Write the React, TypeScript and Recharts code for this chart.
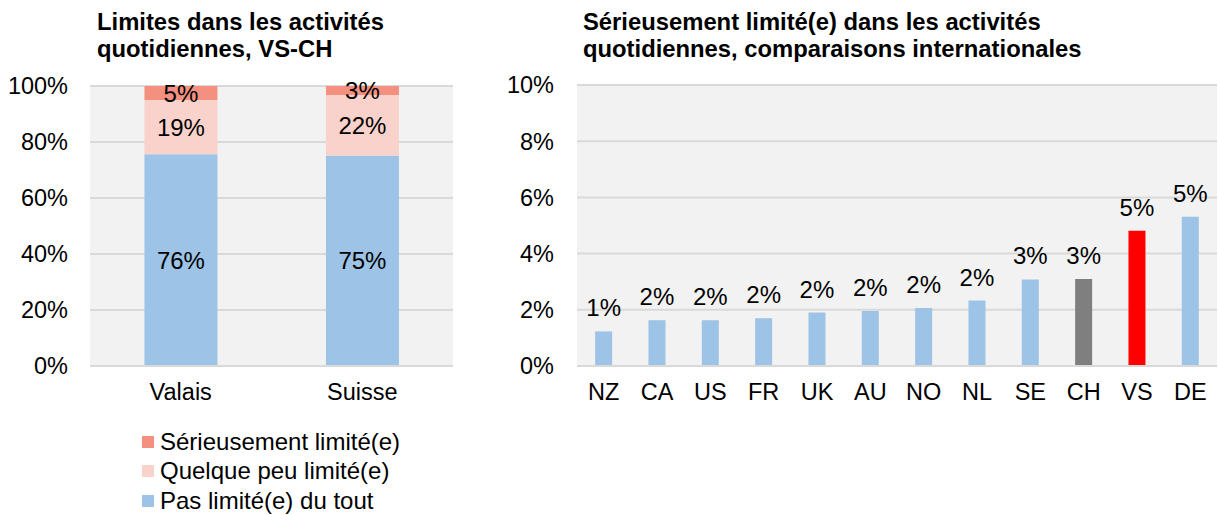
import React from 'react';
import { BarChart, Bar, XAxis, YAxis, CartesianGrid, LabelList, Cell } from 'recharts';

const regions = ['Valais', 'Suisse'];
const serieusement = [5.0, 3.2];
const quelquePeu = [19.4, 21.6];
const pasLimite = [75.6, 75.2];
const leftTicks = [0, 20, 40, 60, 80, 100];

const countries = ['NZ', 'CA', 'US', 'FR', 'UK', 'AU', 'NO', 'NL', 'SE', 'CH', 'VS', 'DE'];
const serieusementIntl = [1.23, 1.63, 1.63, 1.7, 1.9, 1.96, 2.06, 2.33, 3.08, 3.1, 4.81, 5.31];
const rightTicks = [0, 2, 4, 6, 8, 10];

const seriesNames = ['Sérieusement limité(e)', 'Quelque peu limité(e)', 'Pas limité(e) du tout'];

const COL_SER = '#f3907f';
const COL_QUE = '#f9d3cb';
const COL_PAS = '#9dc3e6';
const highlight: Record<string, string> = { CH: '#7f7f7f', VS: '#ff0000' };

const leftData = regions.map((r, i) => ({
  name: r,
  pas: pasLimite[i],
  que: quelquePeu[i],
  ser: serieusement[i],
}));

const rightData = countries.map((c, i) => ({ name: c, value: serieusementIntl[i] }));

const FONT = "'Liberation Sans', Arial, sans-serif";
const FS = 23.5;
const FL = 24;
const pct = (v: any) => `${Math.round(Number(v))}%`;

export default function App() {
  const legendColors = [COL_SER, COL_QUE, COL_PAS];
  return (
    <div style={{ position: 'absolute', left: 0, top: 0, width: 1219, height: 515, background: '#fff', fontFamily: FONT }}>
      <div style={{ position: 'absolute', left: 97, top: 8, fontWeight: 'bold', fontSize: 23.8, lineHeight: '27px', color: '#000' }}>
        Limites dans les activités<br />quotidiennes, VS-CH
      </div>
      <div style={{ position: 'absolute', left: 583, top: 8, fontWeight: 'bold', fontSize: 23.8, lineHeight: '27px', color: '#000' }}>
        Sérieusement limité(e) dans les activités<br />quotidiennes, comparaisons internationales
      </div>

      <div style={{ position: 'absolute', left: 0, top: 0 }}>
        <BarChart width={470} height={515} data={leftData} margin={{ top: 86, right: 17, left: 10, bottom: 109 }} barCategoryGap="30%">
          <CartesianGrid vertical={false} fill="#f2f2f2" stroke="#d9d9d9" strokeWidth={2} />
          <XAxis dataKey="name" axisLine={{ stroke: '#d9d9d9', strokeWidth: 2 }} tickLine={false} tickMargin={11} height={40}
            tick={{ fontSize: FS, fill: '#000', fontFamily: FONT }} />
          <YAxis domain={[0, 100]} ticks={leftTicks} width={80} axisLine={false} tickLine={false} tickMargin={16}
            tickFormatter={(v) => `${v}%`} tick={{ fontSize: FS, fill: '#000', fontFamily: FONT }} />
          <Bar dataKey="pas" stackId="a" fill={COL_PAS} isAnimationActive={false}>
            <LabelList dataKey="pas" position="center" formatter={pct} fill="#000" fontSize={FL} fontFamily={FONT} />
          </Bar>
          <Bar dataKey="que" stackId="a" fill={COL_QUE} isAnimationActive={false}>
            <LabelList dataKey="que" position="center" formatter={pct} fill="#000" fontSize={FL} fontFamily={FONT} />
          </Bar>
          <Bar dataKey="ser" stackId="a" fill={COL_SER} isAnimationActive={false}>
            <LabelList dataKey="ser" position="center" formatter={pct} fill="#000" fontSize={FL} fontFamily={FONT} />
          </Bar>
        </BarChart>
      </div>

      <div style={{ position: 'absolute', left: 142, top: 427, fontSize: FL, color: '#000' }}>
        {seriesNames.map((n, i) => (
          <div key={n} style={{ display: 'flex', alignItems: 'center', height: 29.5 }}>
            <span style={{ display: 'inline-block', width: 12, height: 12, background: legendColors[i], marginRight: 6 }} />
            <span>{n}</span>
          </div>
        ))}
      </div>

      <div style={{ position: 'absolute', left: 480, top: 0 }}>
        <BarChart width={739} height={515} data={rightData} margin={{ top: 85, right: 2, left: 17, bottom: 109 }} barCategoryGap="34%">
          <CartesianGrid vertical={false} fill="#f2f2f2" stroke="#d9d9d9" strokeWidth={2} />
          <XAxis dataKey="name" axisLine={{ stroke: '#d9d9d9', strokeWidth: 2 }} tickLine={false} tickMargin={11} height={40}
            interval={0} tick={{ fontSize: FS, fill: '#000', fontFamily: FONT }} />
          <YAxis domain={[0, 10]} ticks={rightTicks} width={80} axisLine={false} tickLine={false} tickMargin={17}
            tickFormatter={(v) => `${v}%`} tick={{ fontSize: FS, fill: '#000', fontFamily: FONT }} />
          <Bar dataKey="value" fill={COL_PAS} isAnimationActive={false}>
            {rightData.map((d) => (
              <Cell key={d.name} fill={highlight[d.name] ?? COL_PAS} />
            ))}
            <LabelList dataKey="value" position="top" offset={15} formatter={pct} fill="#000" fontSize={FL} fontFamily={FONT} />
          </Bar>
        </BarChart>
      </div>
    </div>
  );
}
